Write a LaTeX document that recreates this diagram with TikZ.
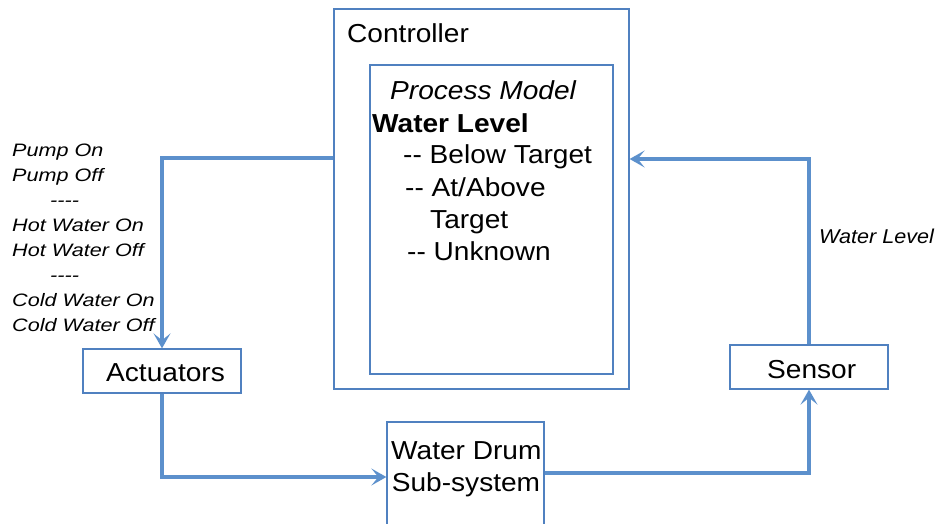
\documentclass[tikz,border=0pt]{standalone}
\usepackage{fontspec}
\newfontfamily\diagfont[FakeStretch=1.08]{Liberation Sans}
\newfontfamily\cmdfont[FakeStretch=1.2]{Liberation Sans}
\usetikzlibrary{arrows.meta}
\definecolor{boxblue}{RGB}{80,129,192}
\definecolor{flowblue}{RGB}{92,144,204}

\begin{document}
\begin{tikzpicture}[x=1pt,y=-1pt,
  blk/.style={draw=boxblue, line width=1.3pt, inner sep=0pt,
    font=\diagfont\fontsize{26}{31}\selectfont},
  txt/.style={inner sep=0pt, anchor=base west,
    font=\diagfont\fontsize{26}{31}\selectfont},
  cmd/.style={inner sep=0pt, anchor=base west,
    font=\cmdfont\itshape\fontsize{18}{22}\selectfont},
  fbtxt/.style={inner sep=0pt, anchor=base west,
    font=\diagfont\itshape\fontsize{20}{24}\selectfont},
  flow/.style={draw=flowblue, line width=3.5pt,
    -{Stealth[length=15pt,width=17pt,inset=7pt]}}]

\clip (0,0) rectangle (937,524);

% blocks
\node[blk, minimum width=295pt, minimum height=380pt] (ctrl) at (481.5,199) {};
\node[blk, minimum width=243pt, minimum height=309pt] (pm) at (491.5,219.5) {};
\node[blk, minimum width=158pt, minimum height=44pt] (act) at (162,371) {};
\node[blk, minimum width=158pt, minimum height=44pt] (sens) at (809,367) {};
\node[blk, minimum width=157pt, minimum height=130pt] (drum) at (465.5,487) {};

% block labels
\node[txt] (acttxt) at (106,381) {Actuators};
\node[txt] (senstxt) at (767,378) {Sensor};

% controller and its process model
\node[txt] (ctrltitle) at (347,42.3) {Controller};
\node[txt] (pmhead) at (390,100) {\itshape Process Model};
\node[txt] (pmvar) at (372,132) {\bfseries Water Level};
\node[txt] (pmv1) at (403,164) {-- Below Target};
\node[txt] (pmv2) at (405,196) {-- At/Above};
\node[txt] (pmv2b) at (430,228) {Target};
\node[txt] (pmv3) at (407,260) {-- Unknown};

% controlled process
\node[txt] (drumtxt1) at (391,459) {Water Drum};
\node[txt] (drumtxt2) at (391.7,491) {Sub-system};

% control actions
\foreach \t [count=\i] in {Pump On,Pump Off,{\hspace*{38pt}----},Hot Water On,
  Hot Water Off,{\hspace*{38pt}----},Cold Water On,Cold Water Off}
  \node[cmd] (cmd\i) at (12,131.7+25*\i) {\t};

% feedback
\node[fbtxt] (fblabel) at (819,243.5) {Water Level};

% connectors
\coordinate (cmdy) at (0,158);
\coordinate (fby) at (0,159);
\coordinate (iny) at (0,477);
\coordinate (outy) at (0,473);
\draw[flow] (ctrl.west |- cmdy) -| (act.north);
\draw[flow] (act.south) |- (drum.west |- iny);
\draw[flow] (drum.east |- outy) -| (sens.south);
\draw[flow] (sens.north) |- (ctrl.east |- fby);
\end{tikzpicture}
\end{document}
